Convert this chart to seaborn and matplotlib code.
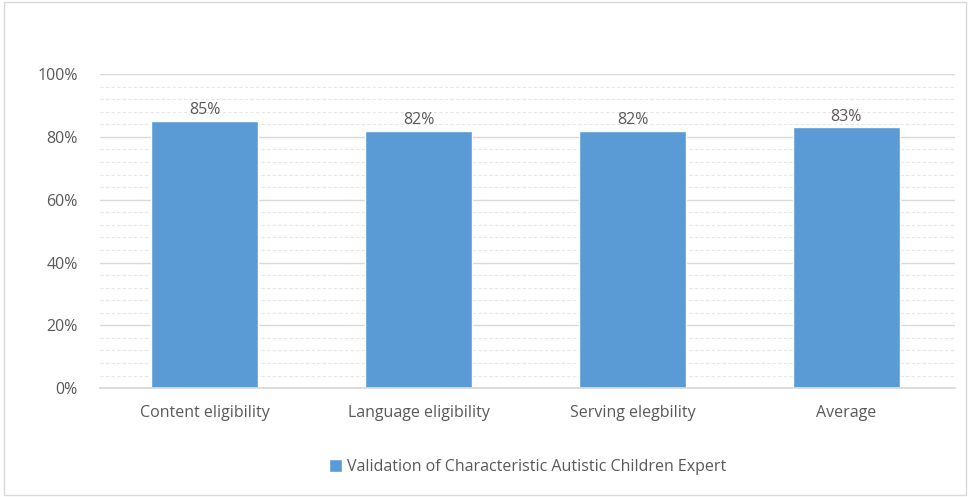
import matplotlib
matplotlib.use("Agg")
import matplotlib.pyplot as plt
import seaborn as sns
import pandas as pd
from matplotlib.ticker import MultipleLocator, PercentFormatter

categories = ["Content eligibility", "Language eligibility", "Serving elegbility", "Average"]
values = [85, 82, 82, 83]
series_name = "Validation of Characteristic Autistic Children Expert"

df = pd.DataFrame({"category": categories, "value": values, "series": series_name})

sns.set_theme(style="white")
plt.rcParams["font.family"] = ["Open Sans", "DejaVu Sans"]
text_color = "#595959"

fig = plt.figure(figsize=(9.7, 4.97), dpi=100)
ax = fig.add_axes([0.103, 0.219, 0.882, 0.632])

sns.barplot(data=df, x="category", y="value", hue="series", palette=["#5B9BD5"],
            width=0.5, ax=ax, saturation=1, legend=True)

ax.set_ylim(0, 100)
ax.set_xlim(-0.49, 3.51)
ax.yaxis.set_major_locator(MultipleLocator(20))
ax.yaxis.set_minor_locator(MultipleLocator(4))
ax.yaxis.set_major_formatter(PercentFormatter(decimals=0))
ax.grid(axis="y", which="major", color="#D9D9D9", linewidth=1)
ax.grid(axis="y", which="minor", color="#E6E6E6", linewidth=0.8, linestyle=(0, (3, 2)))
ax.set_axisbelow(True)
for s in ["top", "right", "left"]:
    ax.spines[s].set_visible(False)
ax.spines["bottom"].set_color("#D9D9D9")
ax.tick_params(axis="both", which="both", length=0, colors=text_color, labelsize=11.5)
ax.tick_params(axis="x", pad=12)
ax.tick_params(axis="y", pad=16)
ax.set_xlabel("")
ax.set_ylabel("")

for c in ax.containers:
    ax.bar_label(c, labels=[f"{v}%" for v in values], color=text_color, fontsize=11.5, padding=2)

leg = ax.legend(loc="upper center", bbox_to_anchor=(0.5, -0.18), frameon=False,
                fontsize=11.5, handlelength=0.8, handleheight=0.8, handletextpad=0.3)
for t in leg.get_texts():
    t.set_color(text_color)

fig.patches.append(plt.Rectangle((0.004, 0.004), 0.992, 0.992, transform=fig.transFigure,
                                 fill=False, edgecolor="#D9D9D9", linewidth=1))

fig.savefig("out.png", dpi=100, facecolor="white")
